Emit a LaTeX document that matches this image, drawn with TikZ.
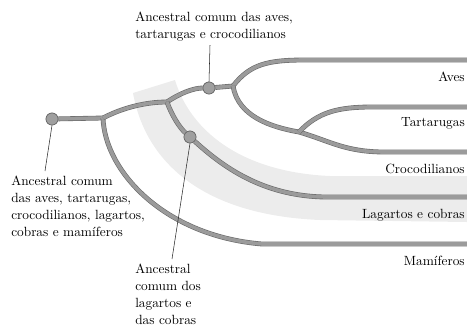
\documentclass[tikz,border=0pt]{standalone}
\usetikzlibrary{positioning}
\definecolor{branchgray}{RGB}{155, 155, 155}
\definecolor{edgegray}{RGB}{105, 105, 105}
\definecolor{bandgray}{RGB}{236, 236, 236}

\begin{document}
\begin{tikzpicture}[
    x=0.75pt, y=-0.75pt,
    branch/.style={
        draw=edgegray,
        line width=0.45pt,
        double=branchgray,
        double distance=2.7pt,
    },
    ancnode/.style={
        draw=edgegray,
        fill=gray!75,
        circle,
        inner sep=0pt,
        minimum size=9pt,
        line width=0.5pt,
    },
    taxon/.style={
        anchor=east,
        inner sep=0pt,
        font=\fontsize{10}{12.75}\selectfont,
    },
    anclabel/.style={
        anchor=north west,
        inner sep=0pt,
        align=left,
        font=\fontsize{10}{12.75}\selectfont,
    },
    leader/.style={line width=0.4pt, black!85},
]

% -- Canvas
\useasboundingbox (0,0) rectangle (467,330);

% -- Shaded band behind the lizards-and-snakes lineage
\fill[bandgray] (133,93) -- (175,80)
    .. controls (190,130) and (240,172) .. (330,176) -- (467,176)
    -- (467,222) -- (320,220)
    .. controls (200,215) and (145,160) .. (133,93) -- cycle;

% -- Ancestor nodes and branch points
\node[ancnode] (root) at (52,119) {};
\coordinate (b1) at (103,118);
\coordinate (b2) at (167,102);
\node[ancnode] (anc2) at (209,88) {};
\coordinate (b3) at (233,86);
\node[ancnode] (lagnode) at (190,137) {};
\coordinate (b4) at (299,132);

% -- Tips at the right edge
\coordinate (aves) at (467,60);
\coordinate (tart) at (467,107);
\coordinate (croc) at (467,152);
\coordinate (lag) at (467,197);
\coordinate (mam) at (467,244);

% ===== Branches =====

% root -> first split
\draw[branch] (root) -- (b1);

% first split -> mammals
\draw[branch] (b1) .. controls (105,172) and (165,236) .. (262,244) -- (mam);

% first split -> second split
\draw[branch] (b1) .. controls (122,108) and (145,102) .. (b2);

% second split -> ancestor of birds, turtles, crocodiles
\draw[branch] (b2) .. controls (180,93) and (194,88) .. (anc2);
\draw[branch] (anc2) -- (b3);

% birds
\draw[branch] (b3) .. controls (250,64) and (268,60) .. (305,60) -- (aves);

% crocodiles (turtles branch off it)
\draw[branch] (b3) .. controls (238,116) and (270,127) .. (b4)
    .. controls (330,141) and (345,152) .. (385,152) -- (croc);

% turtles
\draw[branch] (b4) .. controls (318,112) and (338,107) .. (372,107) -- (tart);

% second split -> lizards and snakes
\draw[branch] (b2) .. controls (172,116) and (180,128) .. (lagnode);
\draw[branch] (lagnode) .. controls (222,166) and (262,196) .. (325,197) -- (lag);

% redraw nodes on top
\node[ancnode] at (root) {};
\node[ancnode] at (anc2) {};
\node[ancnode] at (lagnode) {};

% ===== Labels =====

\node[taxon] (laves) at (465,77) {Aves};
\node[taxon] (ltart) at (465,123) {Tartarugas};
\node[taxon] (lcroc) at (465,169) {Crocodilianos};
\node[taxon] (llag) at (465,215) {Lagartos e cobras};
\node[taxon] (lmam) at (465,261) {Mam\'iferos};

% -- Ancestor labels
\node[anclabel] (toptext) at (135,12) {Ancestral comum das aves,\\tartarugas e crocodilianos};
\node[anclabel] (lefttext) at (11,176) {Ancestral comum\\das aves, tartarugas,\\crocodilianos, lagartos,\\cobras e mam\'iferos};
\node[anclabel] (bottext) at (135,264) {Ancestral\\comum dos\\lagartos e\\das cobras};

% -- Leader lines
\coordinate (toptip) at (210,45);
\coordinate (lefttip) at (45,171);
\coordinate (bottip) at (172,259);
\draw[leader] (anc2.north) -- (toptip);
\draw[leader] (root.south) -- (lefttip);
\draw[leader] (lagnode.south) -- (bottip);

\end{tikzpicture}
\end{document}
